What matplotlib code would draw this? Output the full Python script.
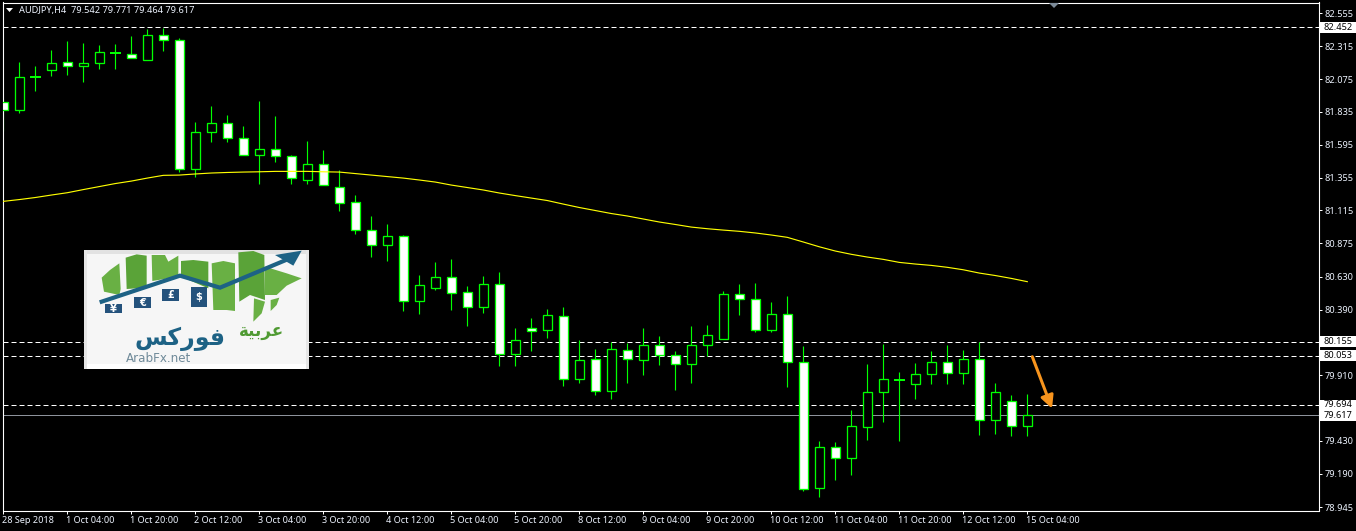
import matplotlib
matplotlib.use("Agg")
import matplotlib.pyplot as plt
from matplotlib.patches import Polygon, Rectangle
from matplotlib.transforms import blended_transform_factory, ScaledTranslation

W, H = 1356, 531
FONT = "Noto Sans"
GREEN = "#00ff00"
px = 0.72

opens = [81.907,81.845,82.089,82.144,82.199,82.173,82.195,82.267,82.261,82.217,82.400,82.363,81.421,81.691,81.750,81.647,81.523,81.560,81.509,81.340,81.457,81.289,81.174,80.974,80.860,80.925,80.450,80.545,80.626,80.516,80.411,80.575,80.063,80.252,80.238,80.341,79.880,80.027,79.793,80.092,80.019,80.129,80.056,79.990,80.129,80.173,80.502,80.465,80.238,80.355,80.005,79.084,79.384,79.303,79.530,79.785,79.878,79.844,79.917,80.005,79.924,80.027,79.581,79.720,79.542]
highs = [81.929,82.199,82.170,82.287,82.352,82.338,82.323,82.330,82.389,82.440,82.451,82.374,81.761,81.877,81.812,81.731,81.914,81.804,81.519,81.622,81.556,81.410,81.227,81.074,81.015,80.935,80.640,80.735,80.757,80.560,80.633,80.662,80.253,80.326,80.392,80.407,80.165,80.100,80.153,80.143,80.253,80.195,80.085,80.270,80.277,80.526,80.577,80.584,80.445,80.489,80.124,79.430,79.422,79.656,79.992,80.138,79.934,79.997,80.087,80.131,80.095,80.153,79.851,79.763,79.771]
lows = [81.695,81.826,81.987,82.097,82.104,82.053,82.148,82.148,82.225,82.217,82.276,81.399,81.362,81.618,81.618,81.523,81.308,81.465,81.308,81.308,81.300,81.110,80.944,80.776,80.747,80.382,80.360,80.535,80.389,80.272,80.367,79.980,79.980,80.089,80.184,79.834,79.856,79.768,79.739,79.856,79.914,79.987,79.804,79.856,80.051,80.173,80.350,80.228,80.228,79.826,79.067,79.023,79.147,79.183,79.439,79.571,79.432,79.739,79.846,79.848,79.848,79.476,79.483,79.468,79.464]
closes = [81.848,82.093,82.089,82.195,82.173,82.195,82.272,82.267,82.225,82.400,82.363,81.421,81.691,81.750,81.647,81.523,81.560,81.509,81.348,81.457,81.304,81.172,80.974,80.860,80.925,80.450,80.567,80.626,80.509,80.407,80.575,80.063,80.165,80.237,80.348,79.880,80.019,79.793,80.100,80.027,80.129,80.056,79.990,80.129,80.202,80.502,80.465,80.238,80.355,80.005,79.077,79.384,79.303,79.537,79.785,79.880,79.878,79.917,80.005,79.924,80.027,79.581,79.785,79.537,79.617]
moving_avg = [81.181,81.194,81.209,81.227,81.244,81.267,81.289,81.311,81.329,81.351,81.371,81.373,81.381,81.388,81.392,81.395,81.397,81.400,81.400,81.400,81.397,81.395,81.384,81.373,81.362,81.351,81.337,81.322,81.300,81.282,81.264,81.242,81.223,81.205,81.187,81.161,81.136,81.114,81.092,81.074,81.052,81.030,81.012,80.993,80.981,80.971,80.962,80.950,80.935,80.918,80.884,80.849,80.818,80.794,80.774,80.757,80.735,80.723,80.713,80.699,80.681,80.657,80.639,80.618,80.594]
x_labels = ["28 Sep 2018","1 Oct 04:00","1 Oct 20:00","2 Oct 12:00","3 Oct 04:00","3 Oct 20:00","4 Oct 12:00","5 Oct 04:00","5 Oct 20:00","8 Oct 12:00","9 Oct 04:00","9 Oct 20:00","10 Oct 12:00","11 Oct 04:00","11 Oct 20:00","12 Oct 12:00","15 Oct 04:00"]
y_ticks = [82.555,82.315,82.075,81.835,81.595,81.355,81.115,80.875,80.630,80.390,79.910,79.430,79.190,78.945]
dashed_levels = [82.452,80.155,80.053,79.694]
last_price = 79.617
title_text = "AUDJPY,H4  79.542 79.771 79.464 79.617"

fig = plt.figure(figsize=(W / 100, H / 100), dpi=100, facecolor="black")
ax = fig.add_axes([2.5 / W, 1 - 510.5 / H, 1316 / W, 508 / H], facecolor="black")
ax.set_xlim(-0.05, 82.2)
ax.set_ylim(78.922, 82.634)

for s in ax.spines.values():
    s.set_color("white")
    s.set_linewidth(1.1 * px)

for lvl in dashed_levels:
    ax.axhline(lvl, color="white", lw=1 * px, dashes=(5, 3), zorder=1)
ax.axhline(last_price, color="#8d929b", lw=1 * px, zorder=1)

for i, (o, h, l, c) in enumerate(zip(opens, highs, lows, closes)):
    ax.vlines(i, l, h, color=GREEN, lw=1.15 * px, zorder=2)
    if o == c:
        ax.hlines(o, i - 0.34, i + 0.34, color=GREEN, lw=2 * px, zorder=3)
    else:
        ax.bar(i, abs(o - c), bottom=min(o, c), width=0.6,
               facecolor="white" if c < o else "black",
               edgecolor=GREEN, linewidth=1.3 * px, zorder=3)

ax.plot(range(len(moving_avg)), moving_avg, color="#ffff00", lw=1.15 * px, zorder=4,
        solid_joinstyle="miter")

ax.set_xticks(range(0, 4 * len(x_labels), 4))
ax.set_xticklabels(x_labels, ha="left", fontname=FONT, fontsize=6.55, color="#eef4ff")
ax.set_yticks(y_ticks)
ax.set_yticklabels([f"{v:.3f}" for v in y_ticks], fontname=FONT, fontsize=6.6, color="#eef4ff")
ax.yaxis.tick_right()
ax.tick_params(axis="x", length=2.2, width=1 * px, color="white", pad=2)
ax.tick_params(axis="y", length=2.2, width=1 * px, color="white", pad=2.2)
shift = ScaledTranslation(-1 / 100, 0, fig.dpi_scale_trans)
for lab in ax.get_xticklabels():
    lab.set_transform(lab.get_transform() + shift)

# price flags on the right scale
tr = blended_transform_factory(ax.transAxes, ax.transData)
for lvl in dashed_levels + [last_price]:
    ax.add_patch(Rectangle((1.0015, lvl - 0.039), 0.03, 0.078, transform=tr, clip_on=False,
                           facecolor="white", edgecolor="none", zorder=6))
    ax.text(1.00355, lvl, f"{lvl:.3f}", transform=tr, clip_on=False, va="center", ha="left",
            fontname=FONT, fontsize=6.6, color="black", zorder=7)

# overlay in image pixels: header, logo, arrow
ov = fig.add_axes([0, 0, 1, 1], facecolor="none")
ov.set_xlim(0, W)
ov.set_ylim(H, 0)
ov.axis("off")

ov.add_patch(Polygon([(6, 8), (13, 8), (9.5, 12)], facecolor="white", edgecolor="none"))
ov.text(19, 10.5, title_text, color="#eef4ff", fontname=FONT, fontsize=6.65, va="center", ha="left")
ov.add_patch(Polygon([(1049, 3), (1059, 3), (1054, 8)], facecolor="#7c8b99", edgecolor="none"))
ov.annotate("", xy=(1052, 408.5), xytext=(1032.3, 356.7),
            arrowprops=dict(arrowstyle="-|>,head_length=0.75,head_width=0.38", color="#f7941d",
                            lw=2.2, shrinkA=0, shrinkB=0))


def lx(u):
    return 80 + u / 3


def ly(v):
    return 245 + v / 3


def poly(pts, color, z=11):
    ov.add_patch(Polygon([(lx(u), ly(v)) for u, v in pts], facecolor=color, edgecolor="none", zorder=z))


# logo background
ov.add_patch(Rectangle((84, 250), 225, 119, facecolor="#f6f6f6", edgecolor="none", zorder=10))
ov.add_patch(Rectangle((84, 250), 225, 4, facecolor="#e2e2e2", edgecolor="none", zorder=10))
ov.add_patch(Rectangle((84, 364), 225, 5, facecolor="white", edgecolor="none", zorder=10))
ov.add_patch(Rectangle((84, 250), 3, 119, facecolor="#e6e6e6", edgecolor="none", zorder=10))
ov.add_patch(Rectangle((306, 250), 3, 119, facecolor="#e6e6e6", edgecolor="none", zorder=10))

g1, g2 = "#69b044", "#5aa338"
poly([(65, 98), (90, 75), (118, 55), (122, 132), (118, 150), (72, 140)], g1)
poly([(137, 38), (170, 28), (200, 32), (200, 128), (140, 132)], g2)
poly([(215, 30), (255, 30), (265, 50), (295, 32), (295, 95), (217, 108)], g1)
poly([(303, 48), (340, 45), (385, 50), (385, 130), (303, 95)], g2)
poly([(395, 55), (430, 48), (465, 55), (465, 198), (440, 195), (400, 195)], g1)
poly([(475, 22), (520, 18), (553, 30), (555, 165), (510, 150), (478, 170)], g2)
poly([(555, 65), (620, 85), (665, 100), (620, 122), (590, 150), (555, 150)], g1)
poly([(522, 160), (555, 170), (545, 205), (520, 230)], g1)
poly([(572, 165), (598, 158), (590, 180), (572, 198)], g1)

# rising arrow
arrow_line = [(65, 170), (300, 92), (420, 128), (625, 42)]
ov.plot([lx(u) for u, v in arrow_line], [ly(v) for u, v in arrow_line], color="#1d6285",
        lw=3.0, solid_joinstyle="miter", zorder=12)
poly([(585, 30), (665, 17), (640, 62)], "#1d6285", 12)

# currency tiles
for (u0, v0, u1, v1, sym) in [(75, 178, 125, 204, "¥"), (162, 155, 212, 190, "€"),
                              (247, 132, 298, 168, "£"), (332, 125, 380, 185, "$")]:
    ov.add_patch(Rectangle((lx(u0), ly(v0)), (u1 - u0) / 3, (v1 - v0) / 3,
                           facecolor="#24527c", edgecolor="none", zorder=12))
    ov.text(lx((u0 + u1) / 2), ly((v0 + v1) / 2), sym, color="white", fontsize=7, fontweight="bold",
            ha="center", va="center", family="DejaVu Sans", zorder=13)

# logo wording (Arabic in shaped forms, visual order)
ov.text(lx(545), ly(258), "\ufe94\ufef4\ufe91\ufeae\ufecb", color="#4f9a32", fontsize=12, fontweight="bold",
        ha="center", va="center", family="DejaVu Sans", zorder=13)
ov.text(lx(300), ly(283), "\ufeb2\ufedb\ufead\ufeee\ufed3", color="#1d6285", fontsize=17, fontweight="bold",
        ha="center", va="center", family="DejaVu Sans", zorder=13)
ov.text(lx(235), ly(340), "ArabFx.net", color="#6f8a99", fontsize=8.6, ha="center", va="center",
        family="DejaVu Sans", zorder=14)

fig.savefig("out.png", dpi=100, facecolor="black")
